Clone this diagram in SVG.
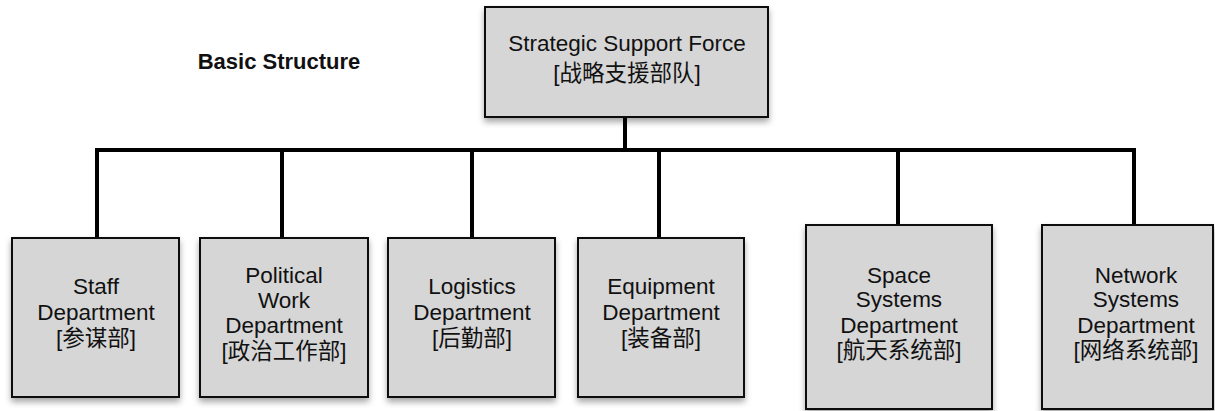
<svg xmlns="http://www.w3.org/2000/svg" width="1215" height="411" viewBox="0 0 1215 411">
<defs>
<filter id="sh" x="-10%" y="-10%" width="130%" height="130%">
<feDropShadow dx="0" dy="4" stdDeviation="3" flood-color="#000" flood-opacity="0.35"/>
</filter>
<style>
.box{fill:#d6d6d6;stroke:#111;stroke-width:2;filter:url(#sh)}
.t{font-family:"Liberation Sans","Noto Sans CJK SC",Arial,sans-serif;font-size:22.5px;fill:#111;text-anchor:middle}
.c{fill:none;stroke:#000;stroke-width:4;stroke-linejoin:miter;stroke-linecap:square}
</style>
</defs>
<rect width="1215" height="411" fill="#fff"/>
<text x="279" y="69" font-family="Liberation Sans, Arial, sans-serif" font-size="22" font-weight="bold" fill="#111" text-anchor="middle">Basic Structure</text>
<g id="connectors">
<path class="c" d="M625 118 V150"/>
<path class="c" d="M97 238 V150 H1134 V225"/>
<path class="c" d="M282 150 V238"/>
<path class="c" d="M472 150 V238"/>
<path class="c" d="M659 150 V238"/>
<path class="c" d="M898 150 V225"/>
</g>
<g id="ssf">
<rect class="box" x="485" y="7" width="283" height="110"/>
<text class="t" x="627" y="51">Strategic Support Force</text>
<text class="t" x="627" y="81">[战略支援部队]</text>
</g>
<g id="staff">
<rect class="box" x="12" y="238" width="167" height="159"/>
<text class="t" x="96" y="294">Staff</text>
<text class="t" x="96" y="320">Department</text>
<text class="t" x="96" y="346">[参谋部]</text>
</g>
<g id="political">
<rect class="box" x="200" y="238" width="168" height="159"/>
<text class="t" x="284" y="283">Political</text>
<text class="t" x="284" y="308">Work</text>
<text class="t" x="284" y="333">Department</text>
<text class="t" x="284" y="359">[政治工作部]</text>
</g>
<g id="logistics">
<rect class="box" x="388" y="238" width="167" height="159"/>
<text class="t" x="472" y="294">Logistics</text>
<text class="t" x="472" y="320">Department</text>
<text class="t" x="472" y="346">[后勤部]</text>
</g>
<g id="equipment">
<rect class="box" x="578" y="238" width="166" height="159"/>
<text class="t" x="661" y="294">Equipment</text>
<text class="t" x="661" y="320">Department</text>
<text class="t" x="661" y="346">[装备部]</text>
</g>
<g id="space">
<rect class="box" x="806" y="225" width="186" height="184"/>
<text class="t" x="899" y="283">Space</text>
<text class="t" x="899" y="307">Systems</text>
<text class="t" x="899" y="333">Department</text>
<text class="t" x="899" y="358">[航天系统部]</text>
</g>
<g id="network">
<rect class="box" x="1042" y="225" width="171" height="184"/>
<text class="t" x="1136" y="283">Network</text>
<text class="t" x="1136" y="307">Systems</text>
<text class="t" x="1136" y="333">Department</text>
<text class="t" x="1136" y="358">[网络系统部]</text>
</g>
</svg>
